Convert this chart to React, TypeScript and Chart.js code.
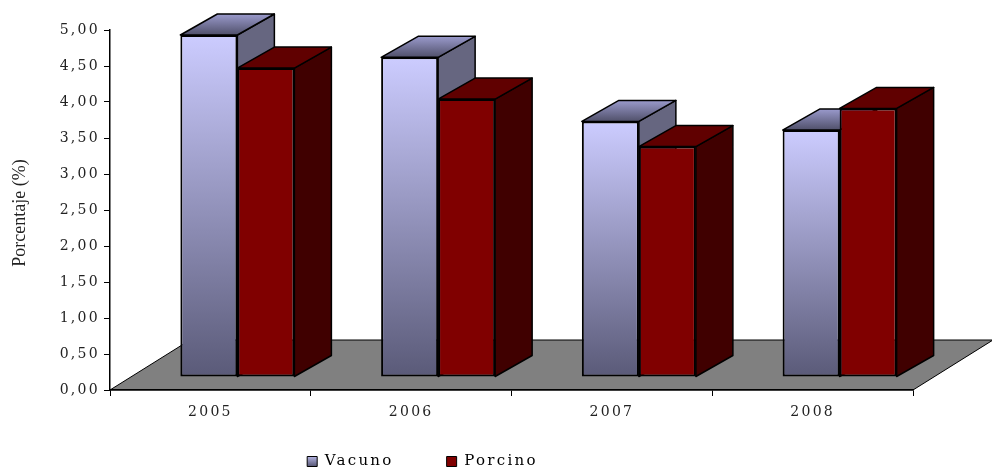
import React, { useEffect, useRef } from "react";
import { Chart, registerables } from "chart.js";

Chart.register(...registerables);

const categories = ["2005", "2006", "2007", "2008"];
const vacuno = [4.75, 4.44, 3.55, 3.43];
const porcino = [4.29, 3.86, 3.2, 3.73];
const seriesNames = ["Vacuno", "Porcino"];

const FONT = "'DejaVu Serif'";
const SPACING = "2.3px";
const BAR_SHIFT_X = 27;
const BAR_SHIFT_Y = -13;
const DEPTH_X = 37;
const DEPTH_Y = -21;
const FLOOR_X = 80;
const FLOOR_Y = -50;

function faces(ctx: CanvasRenderingContext2D, el: any, side: string, top: string | CanvasGradient) {
  const l = el.x - el.width / 2;
  const r = el.x + el.width / 2;
  const t = el.y;
  const b = el.base;
  ctx.lineWidth = 1.5;
  ctx.strokeStyle = "#000";
  ctx.lineJoin = "round";
  ctx.fillStyle = side;
  ctx.beginPath();
  ctx.moveTo(r, t);
  ctx.lineTo(r + DEPTH_X, t + DEPTH_Y);
  ctx.lineTo(r + DEPTH_X, b + DEPTH_Y);
  ctx.lineTo(r, b);
  ctx.closePath();
  ctx.fill();
  ctx.stroke();
  ctx.fillStyle = top;
  ctx.beginPath();
  ctx.moveTo(l, t);
  ctx.lineTo(l + DEPTH_X, t + DEPTH_Y);
  ctx.lineTo(r + DEPTH_X, t + DEPTH_Y);
  ctx.lineTo(r, t);
  ctx.closePath();
  ctx.fill();
  ctx.stroke();
}

const scene3d = {
  id: "scene3d",
  beforeUpdate(chart: any) {
    chart.ctx.letterSpacing = SPACING;
  },
  afterLayout(chart: any) {
    const lg = chart.legend;
    lg.left -= 34;
    lg.right -= 34;
    lg.top += 10;
    lg.bottom += 10;
    chart.scales.x.bottom += 40;
    const yScale = chart.scales.y;
    if (!yScale.__wrapped) {
      yScale.__wrapped = true;
      const draw = yScale.drawTitle.bind(yScale);
      yScale.drawTitle = () => {
        const ctx = chart.ctx;
        ctx.save();
        ctx.letterSpacing = "0px";
        ctx.translate(0, 3);
        draw();
        ctx.restore();
      };
    }
  },
  beforeDraw(chart: any) {
    const { ctx, chartArea: a } = chart;
    ctx.letterSpacing = SPACING;
    ctx.save();
    ctx.fillStyle = "#808080";
    ctx.strokeStyle = "#000";
    ctx.lineWidth = 1;
    ctx.beginPath();
    ctx.moveTo(a.left, a.bottom);
    ctx.lineTo(a.right, a.bottom);
    ctx.lineTo(a.right + FLOOR_X, a.bottom + FLOOR_Y);
    ctx.lineTo(a.left + FLOOR_X, a.bottom + FLOOR_Y);
    ctx.closePath();
    ctx.fill();
    ctx.stroke();
    ctx.restore();
  },
  beforeDatasetsDraw(chart: any) {
    const { ctx } = chart;
    ctx.save();
    ctx.translate(BAR_SHIFT_X, BAR_SHIFT_Y);
    chart.data.datasets.forEach((_: any, d: number) => {
      chart.getDatasetMeta(d).data.forEach((el: any) => {
        if (d === 0) {
          const g = ctx.createLinearGradient(0, el.y + DEPTH_Y, 0, el.y);
          g.addColorStop(0, "#9a9acc");
          g.addColorStop(1, "#50506a");
          faces(ctx, el, "#666680", g);
        } else {
          faces(ctx, el, "#400000", "#600000");
        }
      });
    });
  },
  afterDatasetsDraw(chart: any) {
    chart.ctx.restore();
  },
};

function frontGradient(c: any) {
  const y = c.chart.scales.y;
  if (!y || c.parsed === undefined) return "#ccccff";
  const top = y.getPixelForValue(c.parsed.y);
  const g = c.chart.ctx.createLinearGradient(0, top, 0, y.bottom);
  g.addColorStop(0, "#ccccff");
  g.addColorStop(1, "#5a5a78");
  return g;
}

export default function App() {
  const ref = useRef<HTMLCanvasElement>(null);
  useEffect(() => {
    const chart = new Chart(ref.current as HTMLCanvasElement, {
      type: "bar",
      data: {
        labels: categories,
        datasets: [
          { label: seriesNames[0], data: vacuno, backgroundColor: frontGradient, clip: false },
          { label: seriesNames[1], data: porcino, backgroundColor: "#800000", clip: false },
        ],
      },
      plugins: [scene3d],
      options: {
        animation: false,
        responsive: false,
        layout: { padding: { top: 30, right: 79, left: 0, bottom: 0 } },
        datasets: {
          bar: {
            categoryPercentage: 0.568,
            barPercentage: 1,
            borderColor: "#000",
            borderWidth: 2,
            borderSkipped: false,
          },
        },
        scales: {
          x: {
            afterFit(s: any) { s.height = 1; },
            grid: { drawOnChartArea: false, drawTicks: true, tickLength: 6, color: "#000" },
            border: { color: "#000", width: 1.5 },
            ticks: { autoSkip: false, maxRotation: 0, color: "#222", padding: 8, font: { family: FONT, size: 14 } },
          },
          y: {
            min: 0,
            max: 5,
            afterFit(s: any) { s.width = 110; },
            grid: { drawOnChartArea: false, drawTicks: true, tickLength: 6, color: "#000" },
            border: { color: "#000", width: 1.5 },
            title: {
              display: true,
              text: "Porcentaje (%)",
              color: "#222",
              padding: { top: 9, bottom: 0 },
              font: { family: "'Liberation Serif'", size: 18 },
            },
            ticks: {
              stepSize: 0.5,
              color: "#222",
              padding: 4,
              font: { family: FONT, size: 14 },
              callback: (v: any) => Number(v).toFixed(2).replace(".", ","),
            },
          },
        },
        plugins: {
          tooltip: { enabled: false },
          legend: {
            position: "bottom",
            labels: {
              boxWidth: 10,
              boxHeight: 10,
              padding: 53,
              color: "#222",
              font: { family: FONT, size: 15 },
              generateLabels(chart: any) {
                const ctx = chart.ctx;
                const g = ctx.createLinearGradient(0, 454, 0, 466);
                g.addColorStop(0, "#ccccff");
                g.addColorStop(1, "#5a5a78");
                return [
                  { text: seriesNames[0], fillStyle: g, strokeStyle: "#000", lineWidth: 1, datasetIndex: 0 },
                  { text: seriesNames[1], fillStyle: "#800000", strokeStyle: "#000", lineWidth: 1, datasetIndex: 1 },
                ];
              },
            },
          },
        },
      },
    } as any);
    return () => chart.destroy();
  }, []);
  return (
    <div style={{ position: "absolute", left: 0, top: 0, width: 992, height: 469, background: "#fff" }}>
      <canvas ref={ref} width={992} height={469} style={{ display: "block" }} />
    </div>
  );
}
